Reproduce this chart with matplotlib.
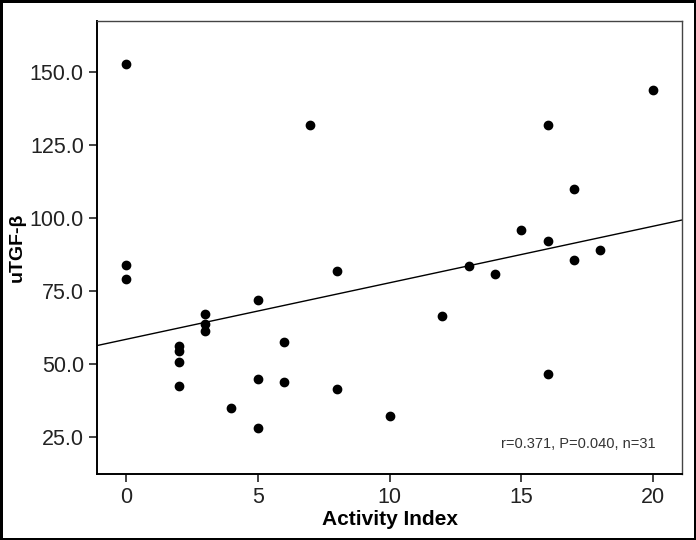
import numpy as np
import matplotlib.pyplot as plt

plt.rcParams['font.family'] = ['Liberation Sans', 'DejaVu Sans']

# Activity index vs urinary TGF-beta
activity = [0, 0, 0, 2, 2, 2, 2, 3, 3, 3, 4, 5, 5, 5, 6, 6, 7, 8, 8,
            10, 12, 13, 14, 15, 16, 16, 16, 17, 17, 18, 20]
utgf = [152.7, 83.9, 79.1, 56.2, 54.5, 50.7, 42.5, 67.1, 63.7, 61.3, 34.9,
        71.9, 44.9, 28.1, 57.5, 43.8, 131.8, 81.8, 41.4, 32.2, 66.4, 83.6,
        80.8, 95.9, 131.8, 92.1, 46.6, 109.9, 85.6, 89.0, 143.8]
x_ticks = [0, 5, 10, 15, 20]
y_ticks = [25, 50, 75, 100, 125, 150]
stats_text = "r=0.371, P=0.040, n=31"

fig = plt.figure(figsize=(6.96, 5.4), dpi=100, edgecolor='black', linewidth=2.5)
ax = fig.add_axes([97 / 696, 1 - 474 / 540, (682 - 97) / 696, (474 - 21) / 540])

ax.scatter(activity, utgf, s=36, color='black', zorder=3)

# least squares line across the full axis
slope, intercept = np.polyfit(activity, utgf, 1)
xlim = (-1.1, 21.1)
xs = np.array(xlim)
ax.plot(xs, slope * xs + intercept, color='black', linewidth=1.0, zorder=2)

ax.set_xlim(xlim)
ax.set_ylim(12.3, 167.5)
ax.set_xticks(x_ticks)
ax.set_yticks(y_ticks)
ax.set_yticklabels([f"{v:.1f}" for v in y_ticks])
ax.tick_params(direction='out', length=6, width=1.2, labelsize=15.5, colors='#222222')
ax.tick_params(top=False, right=False)
for side in ['left', 'bottom']:
    ax.spines[side].set_linewidth(1.4)
for side in ['top', 'right']:
    ax.spines[side].set_linewidth(1.0)
    ax.spines[side].set_color('#444444')

ax.set_xlabel("Activity Index", fontsize=15, fontweight='bold', labelpad=1)
ax.set_ylabel("uTGF-β", fontsize=14, fontweight='bold', labelpad=3)

ax.text(0.955, 0.066, stats_text, transform=ax.transAxes, ha='right', va='center',
        fontsize=10.5, color='#333333')

fig.savefig("out.png", dpi=100, edgecolor=fig.get_edgecolor())
